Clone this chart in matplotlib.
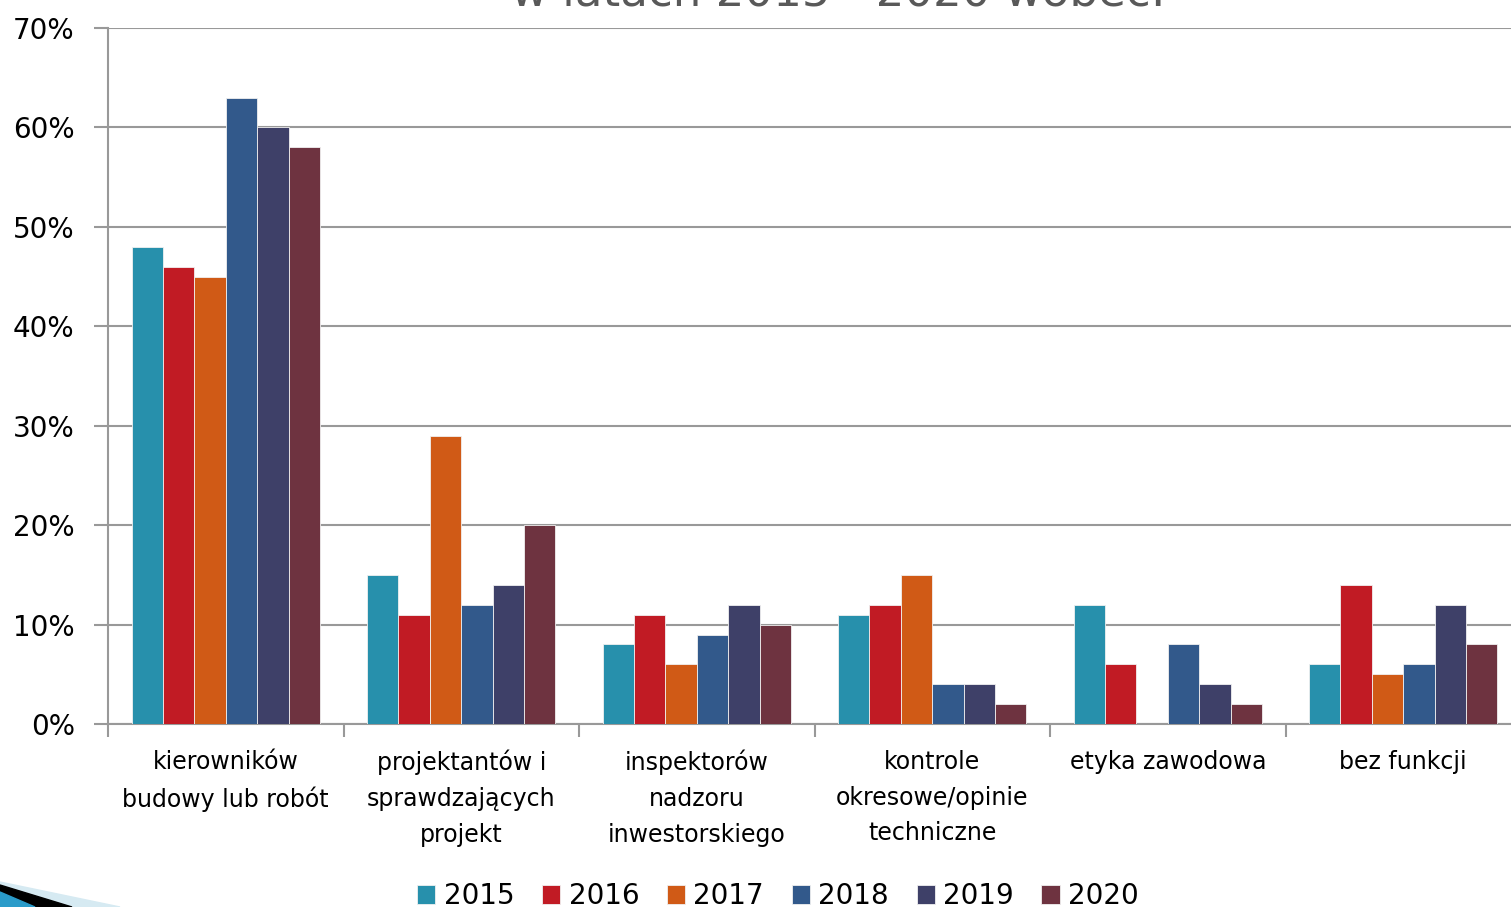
import matplotlib.pyplot as plt
import numpy as np
from matplotlib.patches import Polygon

categories = ['kierowników\nbudowy lub robót', 'projektantów i\nsprawdzających\nprojekt',
              'inspektorów\nnadzoru\ninwestorskiego', 'kontrole\nokresowe/opinie\ntechniczne',
              'etyka zawodowa', 'bez funkcji']
years = ['2015', '2016', '2017', '2018', '2019', '2020']
v2015 = [48, 15, 8, 11, 12, 6]
v2016 = [46, 11, 11, 12, 6, 14]
v2017 = [45, 29, 6, 15, 0, 5]
v2018 = [63, 12, 9, 4, 8, 6]
v2019 = [60, 14, 12, 4, 4, 12]
v2020 = [58, 20, 10, 2, 2, 8]
series = [v2015, v2016, v2017, v2018, v2019, v2020]
colors = ['#2790AC', '#C11B24', '#D05A16', '#32598B', '#3E4068', '#6E3340']

W, H = 1511, 907
fig = plt.figure(figsize=(W / 100, H / 100), dpi=100)
ax = fig.add_axes([108 / W, 1 - 724 / H, 1413 / W, 696 / H])

x = np.arange(len(categories))
bw = 0.8 / 6
for i, (vals, c) in enumerate(zip(series, colors)):
    ax.bar(x - 0.4 + bw * (i + 0.5), vals, bw, color=c, edgecolor='#f0f0f0', linewidth=0.6,
           label=years[i], zorder=3)

ax.set_xlim(-0.5, len(categories) - 0.5)
ax.set_ylim(0, 70)
ax.set_yticks(range(0, 71, 10))
ax.set_yticklabels([f'{v}%' for v in range(0, 71, 10)], fontsize=20)
ax.yaxis.grid(True, color='#999999', linewidth=1.5, zorder=0)
ax.set_xticks(np.arange(-0.5, len(categories), 1))
ax.set_xticklabels([])
ax.tick_params(axis='x', length=9, width=1.5, color='#999999', direction='out')
ax.tick_params(axis='y', length=10, width=1.5, color='#999999', direction='out', pad=14)
for s in ['top', 'right']:
    ax.spines[s].set_visible(False)
for s in ['left', 'bottom']:
    ax.spines[s].set_color('#999999')
    ax.spines[s].set_linewidth(1.5)

for xi, cat in zip(x, categories):
    ax.text(xi, -2.6, cat, ha='center', va='top', fontsize=17, linespacing=1.62,
            transform=ax.transData)

fig.text(838 / W, 1 - 6 / H, 'w latach 2015 - 2020 wobec:', ha='center', va='baseline',
         fontsize=32.5, color='#595959')

fig.legend(loc='center', bbox_to_anchor=(778 / W, 1 - 896 / H), ncol=6, frameon=False,
           prop={'size': 20}, handlelength=0.65, handleheight=0.65, handletextpad=0.3,
           columnspacing=1.0)

fig.patches.append(Polygon([[0, 1 - 882 / H], [120 / W, 0], [0, 0]], closed=True,
                           transform=fig.transFigure, color='#D6EAF2', zorder=5))
fig.patches.append(Polygon([[0, 1 - 885 / H], [72 / W, 0], [0, 0]], closed=True,
                           transform=fig.transFigure, color='#000000', zorder=6))
fig.patches.append(Polygon([[0, 1 - 892 / H], [35 / W, 0], [0, 0]], closed=True,
                           transform=fig.transFigure, color='#2A9BC9', zorder=7))

fig.savefig('out.png', dpi=100)
